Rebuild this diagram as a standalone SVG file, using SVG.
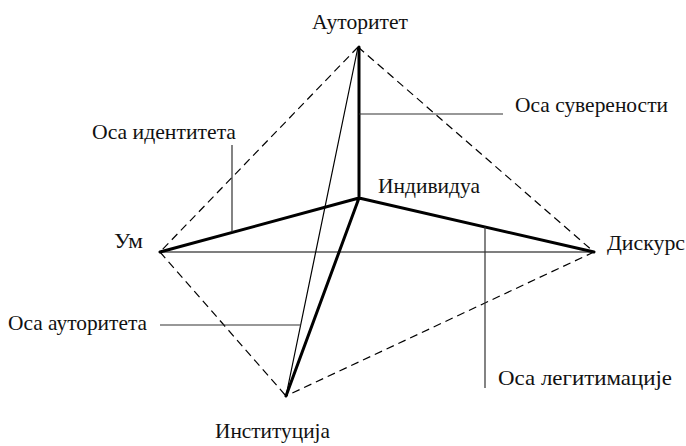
<svg xmlns="http://www.w3.org/2000/svg" width="686" height="446" viewBox="0 0 686 446">
<style>
text{font-family:'Liberation Serif','Times New Roman',serif;font-size:21px;fill:#111}
.thin{stroke:#000;stroke-width:1.2;fill:none}
.lead{stroke:#333;stroke-width:1.2;fill:none}
.thick{stroke:#000;stroke-width:3;fill:none;stroke-linecap:round}
.dash{stroke:#000;stroke-width:1.2;fill:none;stroke-dasharray:8 5}
</style>
<rect width="686" height="446" fill="#fff"/>
<g id="connectors">
<path class="dash" d="M358,47 L160,252 M358,47 L594,252 M160,252 L286,396 M594,252 L286,396"/>
<path class="thin" d="M160,252 L594,252 M358,47 L286,396"/>
<path class="thick" d="M359,198 L160,252 M359,198 L594,252 M359,198 L286,396 M359,198 L359,47"/>
<path class="lead" d="M359,114 L503,114 M232,145 L232,232 M160,325 L301,325 M485,227 L485,388"/>
</g>
<g id="autoritet"><text x="312" y="29" textLength="96" lengthAdjust="spacingAndGlyphs">Ауторитет</text></g>
<g id="individua"><text x="378" y="193" textLength="102" lengthAdjust="spacingAndGlyphs">Индивидуа</text></g>
<g id="um"><text x="114" y="248" textLength="29" lengthAdjust="spacingAndGlyphs">Ум</text></g>
<g id="diskurs"><text x="607" y="250" textLength="78" lengthAdjust="spacingAndGlyphs">Дискурс</text></g>
<g id="institucija"><text x="215" y="438" textLength="115" lengthAdjust="spacingAndGlyphs">Институција</text></g>
<g id="osa-suverenosti"><text x="515" y="112" textLength="153" lengthAdjust="spacingAndGlyphs">Оса суверености</text></g>
<g id="osa-identiteta"><text x="92" y="139" textLength="144" lengthAdjust="spacingAndGlyphs">Оса идентитета</text></g>
<g id="osa-autoriteta"><text x="8" y="330" textLength="139" lengthAdjust="spacingAndGlyphs">Оса ауторитета</text></g>
<g id="osa-legitimacije"><text x="498" y="385" textLength="174" lengthAdjust="spacingAndGlyphs">Оса легитимације</text></g>
</svg>
